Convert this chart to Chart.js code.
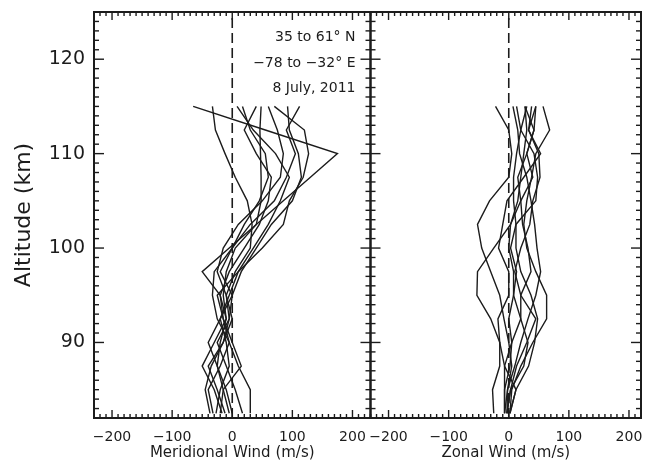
<!DOCTYPE html>
<html>
<head>
<meta charset="utf-8">
<script src="https://cdn.jsdelivr.net/npm/chart.js@4"></script>
<style>
  body { margin: 0; background: #fff; }
  canvas { display: block; }
</style>
</head>
<body>
<canvas id="windChart" width="645" height="464"></canvas>
<script>
// altitude levels of each profile (km)
var altitudes = [82.5, 85, 87.5, 90, 92.5, 95, 97.5, 100, 102.5, 105, 107.5, 110, 112.5, 115];

// meridional wind profiles (m/s), one per row, same order as altitudes
var meridionalProfiles = [
    [-5, -15, -25, -20, -10, -20, -50, -5, 40, 85, 130, 175, 55, -65],
    [-37, -45, -35, -15, -5, -10, 5, 30, 33, 25, 5, -12, -28, -33],
    [0, -10, -25, -40, -20, -5, 10, 35, 60, 80, 95, 72, 35, 8],
    [30, 30, 10, -5, -15, -25, 10, 50, 85, 95, 118, 127, 120, 70],
    [-17, -30, -50, -30, -10, -15, -10, 5, 40, 48, 48, 47, 46, 48],
    [-27, -20, -5, -10, -20, 0, 15, 40, 65, 100, 115, 110, 95, 92],
    [17, 5, -10, -25, -5, 0, -20, 0, 30, 70, 90, 105, 90, 112],
    [-12, -25, -40, -15, 0, -10, -25, -15, 10, 50, 80, 85, 75, 60],
    [-32, -40, -20, -5, -25, -33, -30, 0, 20, 45, 60, 55, 30, 17],
    [-20, -15, 15, 0, -15, -20, -5, 20, 45, 60, 65, 40, 20, 40]
];

// zonal wind profiles (m/s)
var zonalProfiles = [
    [-25, -27, -15, -15, -30, -53, -52, -25, 3, 15, 20, 25, 30, 27],
    [-3, -2, 5, 0, -8, -15, -30, -45, -52, -32, 0, 5, 0, -22],
    [2, 5, 20, 40, 63, 63, 45, 30, 25, 30, 38, 45, 68, 57],
    [-3, 3, 13, 30, 45, 20, 10, 20, 35, 40, 52, 50, 33, 45],
    [-7, -2, 10, 20, 32, 45, 53, 47, 43, 37, 30, 18, 15, 7],
    [2, 12, 33, 43, 48, 37, 20, 12, 12, 8, 8, 13, 20, 13],
    [-3, 3, 25, 32, 20, 20, 37, 32, 23, 20, 15, 30, 42, 27],
    [-7, -7, 2, 5, 0, 8, 13, 3, 12, 45, 48, 42, 20, 30],
    [-7, -7, -7, -15, -18, 0, 0, -17, -10, -3, 25, 53, 33, 38],
    [2, 12, -7, 5, 20, 8, 8, 0, 3, 20, 40, 30, 42, 45]
];

var xTicks = [-200, -100, 0, 100, 200];
var yTicks = [90, 100, 110, 120];
var infoLines = ['35 to 61\u00b0 N', '\u221278 to \u221232\u00b0 E', '8 July, 2011'];
var infoAltitudes = [122.3, 119.6, 116.9];

var ink = '#1c1c1c';
var fontFamily = "'DejaVu Sans', sans-serif";

function minus(v) {
    return v < 0 ? '\u2212' + Math.abs(v) : String(v);
}

function profileData(values) {
    return altitudes.map(function(a, i) { return {x: values[i], y: a}; });
}

function noPadding(axis) {
    axis.paddingTop = 0;
    axis.paddingBottom = 0;
    axis.paddingLeft = 0;
    axis.paddingRight = 0;
}

var datasets = [];
meridionalProfiles.forEach(function(p) {
    datasets.push({data: profileData(p), xAxisID: 'xm', yAxisID: 'y'});
});
zonalProfiles.forEach(function(p) {
    datasets.push({data: profileData(p), xAxisID: 'xz', yAxisID: 'y'});
});
// dashed zero lines
['xm', 'xz'].forEach(function(id) {
    datasets.push({
        data: [{x: 0, y: 82}, {x: 0, y: 125}],
        xAxisID: id, yAxisID: 'y',
        borderDash: [10, 5], borderWidth: 1.6
    });
});

// IDL style frame: inward ticks on all four sides of each panel
var framePlugin = {
    id: 'frame',
    afterDatasetsDraw: function(chart) {
        var ctx = chart.ctx;
        var ys = chart.scales.y;
        var top = chart.chartArea.top, bottom = chart.chartArea.bottom;
        ctx.save();
        ctx.strokeStyle = ink;
        function seg(x1, y1, x2, y2) {
            ctx.beginPath();
            ctx.moveTo(x1, y1);
            ctx.lineTo(x2, y2);
            ctx.stroke();
        }
        ['xm', 'xz'].forEach(function(id) {
            var s = chart.scales[id];
            ctx.lineWidth = 1.4;
            for (var v = Math.ceil(s.min / 10) * 10; v <= s.max; v += 10) {
                var px = s.getPixelForValue(v);
                var len = v % 100 === 0 ? 8 : 4;
                seg(px, bottom, px, bottom - len);
                seg(px, top, px, top + len);
            }
            for (var a = Math.ceil(ys.min); a <= ys.max; a++) {
                var py = ys.getPixelForValue(a);
                var l2 = a % 10 === 0 ? 10 : 5;
                seg(s.left, py, s.left + l2, py);
                seg(s.right, py, s.right - l2, py);
            }
            ctx.lineWidth = 2;
            ctx.strokeRect(s.left, top, s.right - s.left, bottom - top);
        });

        // location / date note in the left panel
        var xm = chart.scales.xm;
        ctx.fillStyle = ink;
        ctx.font = '14px ' + fontFamily;
        ctx.textAlign = 'right';
        ctx.textBaseline = 'middle';
        infoLines.forEach(function(t, i) {
            ctx.fillText(t, xm.getPixelForValue(205), ys.getPixelForValue(infoAltitudes[i]));
        });
        ctx.restore();
    }
};

function xScale(title, max) {
    return {
        type: 'linear',
        position: 'bottom',
        stack: 'wind',
        stackWeight: max + 230,
        min: -230,
        max: max,
        grid: {display: false, drawTicks: false},
        border: {display: false},
        afterBuildTicks: function(axis) {
            axis.ticks = xTicks.map(function(v) { return {value: v}; });
        },
        afterFit: function(axis) {
            axis.height = 46;
            noPadding(axis);
        },
        ticks: {
            color: ink,
            padding: 11,
            autoSkip: false,
            maxRotation: 0,
            font: {family: fontFamily, size: 14},
            callback: function(v) { return minus(v); }
        },
        title: {
            display: true,
            text: title,
            color: ink,
            font: {family: fontFamily, size: 15},
            padding: {top: 0, bottom: 2}
        }
    };
}

var ctx = document.getElementById('windChart').getContext('2d');
var windChart = new Chart(ctx, {
    type: 'line',
    data: {datasets: datasets},
    plugins: [framePlugin],
    options: {
        responsive: false,
        animation: false,
        devicePixelRatio: 1,
        layout: {padding: {top: 12, right: 4, bottom: 0, left: 0}},
        elements: {
            line: {borderColor: ink, borderWidth: 1.4, tension: 0},
            point: {radius: 0}
        },
        plugins: {legend: {display: false}, tooltip: {enabled: false}},
        scales: {
            xm: xScale('Meridional Wind (m/s)', 230),
            xz: xScale('Zonal Wind (m/s)', 220),
            y: {
                type: 'linear',
                position: 'left',
                min: 82,
                max: 125,
                grid: {display: false, drawTicks: false},
                border: {display: false},
                afterBuildTicks: function(axis) {
                    axis.ticks = yTicks.map(function(v) { return {value: v}; });
                },
                afterFit: function(axis) {
                    axis.width = 94;
                    noPadding(axis);
                },
                ticks: {
                    color: ink,
                    padding: 9,
                    autoSkip: false,
                    font: {family: fontFamily, size: 19}
                },
                title: {
                    display: true,
                    text: 'Altitude (km)',
                    color: ink,
                    font: {family: fontFamily, size: 22},
                    padding: {top: 11, bottom: 0}
                }
            }
        }
    }
});
</script>
</body>
</html>
